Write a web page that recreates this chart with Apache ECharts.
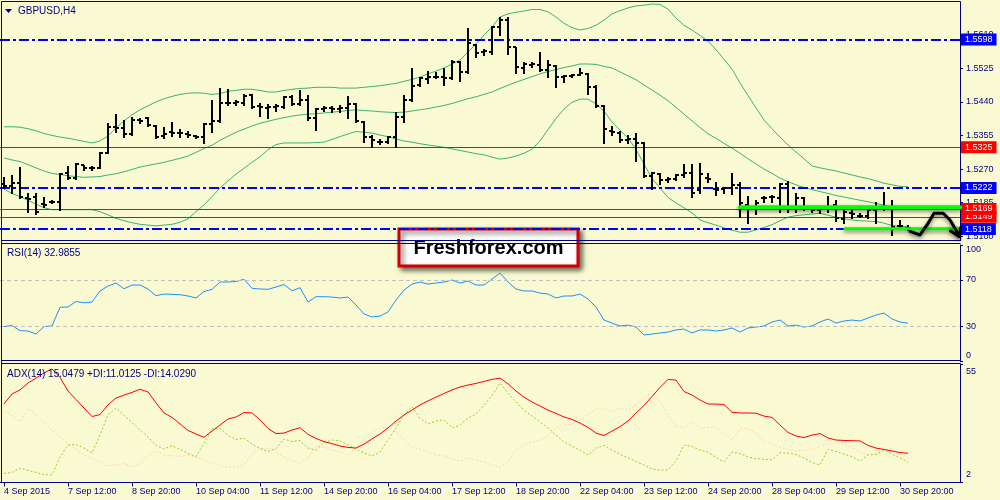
<!DOCTYPE html>
<html><head><meta charset="utf-8">
<script src="https://cdn.jsdelivr.net/npm/echarts@6/dist/echarts.min.js"></script>
<style>html,body{margin:0;padding:0;background:#FAFAD2;}#c{width:1000px;height:500px;}</style>
</head><body><div id="c"></div>
<script>
// ---------- data ----------
const tickLabels = ['4 Sep 2015','7 Sep 12:00','8 Sep 20:00','10 Sep 04:00','11 Sep 12:00','14 Sep 20:00','16 Sep 04:00','17 Sep 12:00','18 Sep 20:00','22 Sep 04:00','23 Sep 12:00','24 Sep 20:00','28 Sep 04:00','29 Sep 12:00','30 Sep 20:00'];
const slotCount = 120; // bar slots on the time axis (incl. empty right margin)

const opens = [1.5232,1.5227,1.5235,1.5197,1.5199,1.5182,1.5187,1.5187,1.5259,1.5247,
1.5279,1.5273,1.5273,1.5311,1.5376,1.5373,1.5359,1.5394,1.5398,1.5379,
1.5354,1.5364,1.5360,1.5359,1.5354,1.5350,1.5385,1.5392,1.5438,1.5437,
1.5438,1.5457,1.5429,1.5424,1.5426,1.5428,1.5452,1.5435,1.5446,1.5398,
1.5422,1.5424,1.5421,1.5424,1.5435,1.5390,1.5352,1.5339,1.5339,1.5352,
1.5401,1.5446,1.5483,1.5497,1.5504,1.5504,1.5500,1.5541,1.5516,1.5584,
1.5567,1.5567,1.5630,1.5647,1.5578,1.5525,1.5533,1.5533,1.5522,1.5531,
1.5502,1.5506,1.5508,1.5510,1.5477,1.5429,1.5367,1.5362,1.5343,1.5345,
1.5337,1.5252,1.5257,1.5242,1.5244,1.5255,1.5259,1.5217,1.5247,1.5219,
1.5219,1.5221,1.5230,1.5179,1.5173,1.5196,1.5199,1.5196,1.5232,1.5168,
1.5196,1.5171,1.5165,1.5171,1.5180,1.5143,1.5158,1.5151,1.5151,1.5166,
1.5173,1.5172,1.5126,1.5121];
const highs = [1.5251,1.5255,1.5274,1.5209,1.5210,1.5200,1.5192,1.5259,1.5278,1.5285,
1.5280,1.5278,1.5314,1.5387,1.5409,1.5394,1.5401,1.5398,1.5401,1.5381,
1.5376,1.5389,1.5371,1.5366,1.5356,1.5387,1.5446,1.5474,1.5472,1.5446,
1.5459,1.5459,1.5438,1.5435,1.5435,1.5455,1.5457,1.5470,1.5457,1.5424,
1.5429,1.5429,1.5432,1.5455,1.5438,1.5392,1.5356,1.5345,1.5354,1.5415,
1.5457,1.5525,1.5504,1.5519,1.5516,1.5525,1.5546,1.5544,1.5626,1.5586,
1.5575,1.5632,1.5655,1.5655,1.5580,1.5542,1.5542,1.5567,1.5546,1.5533,
1.5508,1.5510,1.5527,1.5512,1.5483,1.5432,1.5379,1.5367,1.5356,1.5360,
1.5339,1.5263,1.5259,1.5249,1.5257,1.5283,1.5283,1.5286,1.5259,1.5238,
1.5225,1.5261,1.5238,1.5202,1.5192,1.5202,1.5204,1.5235,1.5240,1.5210,
1.5199,1.5177,1.5173,1.5202,1.5192,1.5168,1.5171,1.5158,1.5177,1.5187,
1.5213,1.5192,1.5141,1.5128];
const lows = [1.5221,1.5210,1.5196,1.5162,1.5157,1.5175,1.5183,1.5166,1.5246,1.5246,
1.5268,1.5268,1.5272,1.5310,1.5365,1.5352,1.5356,1.5386,1.5379,1.5348,
1.5348,1.5354,1.5350,1.5350,1.5348,1.5335,1.5365,1.5390,1.5432,1.5432,
1.5432,1.5424,1.5404,1.5398,1.5418,1.5424,1.5432,1.5432,1.5394,1.5369,
1.5418,1.5415,1.5415,1.5398,1.5390,1.5339,1.5327,1.5333,1.5337,1.5327,
1.5390,1.5442,1.5480,1.5488,1.5500,1.5483,1.5497,1.5494,1.5514,1.5554,
1.5559,1.5561,1.5609,1.5561,1.5512,1.5512,1.5529,1.5519,1.5502,1.5477,
1.5491,1.5502,1.5507,1.5460,1.5426,1.5337,1.5356,1.5339,1.5337,1.5291,
1.5251,1.5219,1.5232,1.5238,1.5242,1.5251,1.5199,1.5210,1.5238,1.5204,
1.5210,1.5207,1.5149,1.5134,1.5156,1.5187,1.5187,1.5160,1.5162,1.5162,
1.5166,1.5160,1.5158,1.5162,1.5139,1.5133,1.5145,1.5148,1.5145,1.5134,
1.5166,1.5103,1.5118,1.5116];
const closes = [1.5227,1.5235,1.5199,1.5194,1.5160,1.5178,1.5187,1.5257,1.5247,1.5283,
1.5272,1.5273,1.5311,1.5376,1.5373,1.5359,1.5394,1.5392,1.5381,1.5352,
1.5359,1.5362,1.5362,1.5355,1.5352,1.5385,1.5392,1.5438,1.5436,1.5440,
1.5455,1.5426,1.5428,1.5426,1.5429,1.5452,1.5435,1.5446,1.5398,1.5422,
1.5424,1.5421,1.5424,1.5435,1.5392,1.5352,1.5343,1.5339,1.5350,1.5401,
1.5446,1.5480,1.5500,1.5502,1.5502,1.5500,1.5542,1.5516,1.5588,1.5563,
1.5568,1.5630,1.5647,1.5580,1.5529,1.5537,1.5537,1.5521,1.5533,1.5502,
1.5505,1.5508,1.5512,1.5477,1.5429,1.5371,1.5364,1.5343,1.5345,1.5337,
1.5252,1.5259,1.5242,1.5244,1.5255,1.5259,1.5210,1.5257,1.5245,1.5217,
1.5221,1.5230,1.5185,1.5173,1.5185,1.5197,1.5198,1.5232,1.5168,1.5196,
1.5171,1.5165,1.5168,1.5173,1.5145,1.5160,1.5157,1.5151,1.5166,1.5173,
1.5172,1.5124,1.5125,1.5120];

const bbUpper = [1.5377,1.5377,1.5376,1.5372,1.5367,1.5360,1.5355,1.5351,1.5348,1.5344,
1.5340,1.5336,1.5341,1.5354,1.5374,1.5392,1.5407,1.5420,1.5430,1.5440,
1.5448,1.5454,1.5459,1.5462,1.5463,1.5462,1.5459,1.5461,1.5467,1.5469,
1.5472,1.5472,1.5469,1.5465,1.5465,1.5469,1.5472,1.5474,1.5475,1.5477,
1.5477,1.5477,1.5475,1.5475,1.5475,1.5477,1.5479,1.5481,1.5484,1.5487,
1.5492,1.5497,1.5503,1.5511,1.5518,1.5526,1.5536,1.5546,1.5566,1.5587,
1.5609,1.5630,1.5655,1.5663,1.5667,1.5670,1.5674,1.5674,1.5668,1.5655,
1.5639,1.5628,1.5622,1.5626,1.5634,1.5647,1.5663,1.5671,1.5678,1.5683,
1.5685,1.5688,1.5687,1.5675,1.5652,1.5634,1.5622,1.5608,1.5594,1.5572,
1.5548,1.5523,1.5488,1.5456,1.5425,1.5394,1.5372,1.5351,1.5331,1.5313,
1.5296,1.5278,1.5273,1.5269,1.5265,1.5260,1.5255,1.5250,1.5246,1.5240,
1.5234,1.5230,1.5226,1.5225];
const bbMiddle = [1.5298,1.5293,1.5289,1.5281,1.5273,1.5265,1.5259,1.5256,1.5253,1.5251,
1.5249,1.5250,1.5251,1.5255,1.5258,1.5263,1.5269,1.5275,1.5279,1.5283,
1.5287,1.5292,1.5297,1.5303,1.5312,1.5322,1.5330,1.5343,1.5353,1.5363,
1.5371,1.5379,1.5386,1.5391,1.5396,1.5400,1.5404,1.5407,1.5409,1.5410,
1.5412,1.5414,1.5416,1.5418,1.5420,1.5418,1.5417,1.5415,1.5414,1.5413,
1.5414,1.5417,1.5420,1.5423,1.5427,1.5431,1.5436,1.5442,1.5448,1.5453,
1.5459,1.5465,1.5474,1.5482,1.5490,1.5497,1.5504,1.5511,1.5517,1.5522,
1.5527,1.5531,1.5536,1.5536,1.5535,1.5530,1.5526,1.5516,1.5506,1.5496,
1.5483,1.5470,1.5457,1.5443,1.5426,1.5409,1.5392,1.5375,1.5359,1.5348,
1.5335,1.5323,1.5310,1.5296,1.5283,1.5270,1.5259,1.5247,1.5238,1.5230,
1.5223,1.5218,1.5213,1.5208,1.5203,1.5199,1.5195,1.5191,1.5187,1.5183,
1.5178,1.5175,1.5172,1.5171];
const bbLower = [1.5219,1.5208,1.5200,1.5191,1.5181,1.5172,1.5167,1.5167,1.5167,1.5167,
1.5167,1.5167,1.5162,1.5154,1.5145,1.5139,1.5134,1.5130,1.5128,1.5126,
1.5128,1.5130,1.5135,1.5144,1.5162,1.5179,1.5200,1.5222,1.5240,1.5257,
1.5272,1.5287,1.5301,1.5319,1.5332,1.5336,1.5336,1.5336,1.5336,1.5337,
1.5338,1.5345,1.5352,1.5359,1.5365,1.5363,1.5361,1.5356,1.5352,1.5346,
1.5341,1.5338,1.5334,1.5331,1.5328,1.5325,1.5321,1.5317,1.5313,1.5309,
1.5306,1.5300,1.5295,1.5298,1.5303,1.5310,1.5320,1.5341,1.5370,1.5398,
1.5422,1.5439,1.5447,1.5447,1.5435,1.5417,1.5389,1.5368,1.5349,1.5319,
1.5283,1.5246,1.5222,1.5198,1.5184,1.5172,1.5159,1.5141,1.5134,1.5128,
1.5121,1.5115,1.5110,1.5110,1.5116,1.5122,1.5129,1.5139,1.5148,1.5152,
1.5154,1.5156,1.5158,1.5153,1.5148,1.5144,1.5141,1.5139,1.5138,1.5137,
1.5133,1.5127,1.5125,1.5124];

const rsi = [30.1,31.0,26.6,26.3,23.7,30.1,30.6,46.6,46.9,51.6,
50.5,51.1,60.6,64.8,67.4,62.5,65.7,65.7,62.3,56.5,
58.0,57.7,57.4,56.3,54.6,60.1,62.0,68.3,68.3,68.7,
70.6,62.9,62.3,62.0,64.0,66.1,60.8,63.4,51.1,55.7,
55.7,55.4,54.6,55.4,48.6,40.9,38.3,39.1,42.6,52.8,
61.4,66.5,68.3,66.5,67.4,68.3,70.0,67.4,69.1,65.7,
65.7,70.8,76.0,68.3,62.3,60.6,60.6,58.8,58.0,54.6,
56.3,56.3,58.0,53.7,46.9,35.7,33.1,30.6,31.4,29.7,
22.9,23.7,24.6,25.4,27.2,28.0,24.6,27.2,27.2,26.3,
27.2,28.9,25.4,28.9,29.7,30.6,34.0,35.7,30.6,31.4,
29.7,30.6,34.0,36.6,33.1,34.9,35.7,34.9,37.4,40.0,
41.7,36.6,34.0,32.99];
const adx = [37.1,41.6,43.4,46.5,48.7,51.0,52.8,49.0,42.9,39.1,
35.3,31.5,32.4,36.7,39.8,41.1,42.3,43.7,42.5,37.6,
33.1,31.1,28.2,25.3,23.7,22.2,25.0,27.7,30.4,31.3,
33.3,33.1,30.0,26.2,23.9,24.1,25.5,26.5,23.5,21.7,
20.3,19.4,18.3,17.7,17.4,19.2,21.5,23.7,26.4,29.5,
32.2,34.4,36.7,38.5,40.2,41.8,43.4,44.7,45.6,46.3,
47.2,48.1,48.7,46.1,42.9,40.2,38.0,36.2,34.4,32.9,
31.3,30.2,28.6,26.6,24.1,23.0,25.0,27.0,29.5,33.1,
36.4,40.5,44.5,48.1,47.8,42.7,41.1,38.9,37.1,37.1,
36.9,33.4,33.1,33.1,33.0,31.7,31.1,27.7,24.4,22.8,
22.1,23.2,23.9,21.9,21.0,20.8,20.7,20.6,18.6,17.4,
16.8,16.1,15.4,15.05];
const plusDI = [6.0,6.5,8.4,7.4,6.5,5.6,5.4,13.4,18.8,19.0,
17.4,15.2,23.2,32.2,35.3,32.0,28.8,25.5,22.4,18.6,
17.0,18.5,16.9,15.0,13.6,19.4,25.9,26.2,23.2,21.2,
21.9,19.2,17.2,15.9,17.2,21.5,20.3,20.8,17.4,16.5,
19.9,21.0,20.6,18.8,17.0,15.2,13.9,15.6,21.0,26.4,
32.2,35.8,30.8,28.2,29.5,30.0,26.4,27.7,30.8,32.6,
36.7,40.7,46.5,42.0,38.0,34.4,31.7,29.1,26.4,23.2,
20.1,18.3,16.5,14.3,17.4,18.6,16.5,14.6,13.0,11.4,
9.8,8.0,7.6,7.6,11.6,18.8,18.1,16.5,15.6,13.2,
11.2,15.6,15.0,13.4,12.7,12.4,12.1,15.3,15.2,14.5,
13.0,11.0,9.8,16.8,15.9,14.7,13.6,11.6,14.3,14.7,
16.5,14.7,13.0,11.01];
const minusDI = [34.0,32.0,29.2,34.9,32.4,28.8,25.5,22.4,19.4,16.8,
14.3,12.7,11.4,9.4,9.8,10.5,8.9,10.5,14.1,16.1,
14.3,13.9,13.6,14.3,13.2,12.3,10.7,9.6,8.8,8.8,
9.8,14.7,17.0,17.4,15.6,13.4,11.8,10.6,13.0,18.3,
17.9,16.5,15.6,14.3,17.4,21.0,24.6,26.4,26.8,24.6,
21.0,17.9,17.0,15.6,14.3,13.9,12.5,11.6,13.0,12.1,
11.2,9.8,8.9,11.2,16.5,18.8,20.1,21.0,22.8,26.4,
27.7,28.2,30.0,32.2,35.3,35.3,33.5,35.2,34.4,36.7,
39.3,42.9,38.1,32.2,27.3,26.4,29.2,26.2,26.6,26.8,
23.7,21.0,26.2,26.2,23.7,20.8,19.0,17.7,16.8,16.2,
16.2,17.0,18.0,19.1,19.8,19.4,17.7,15.6,14.5,14.3,
16.5,17.2,14.7,14.03];

const priceTicks = [1.5100,1.5185,1.5270,1.5355,1.5440,1.5525,1.5610];
const blueLevels = [1.5598,1.5222,1.5118];
const redLevels = [1.5325,1.5149,1.5169];
const rsiTicks = [0,30,70,100];
const rsiLevels = [30,70];
const adxTicks = [2,55];
// hand-drawn annotations: [bar position, price]
const greenLineUpper = [[92,1.5173],[119.5,1.5173]];
const greenLineLower = [[105.1,1.5119],[119.5,1.5119]];
const arrowPath = [[113.25,1.5112],[114.5,1.5103],[115.4,1.5129],[116.25,1.5158],[117.4,1.5158],[118.25,1.5141],[118.9,1.5119],[119.4,1.5100]];
const arrowHead = [[118.3,1.5113],[119.4,1.5099],[119.6,1.5122]];

// ---------- chart ----------
const FONT = 'Liberation Sans, Arial, sans-serif';
const NAVY = '#000080';
const cats = Array.from({length: slotCount}, (_, i) => String(i));
const chart = echarts.init(document.getElementById('c'), null, {renderer: 'canvas', width: 1000, height: 500});

const hiddenX = (gi) => ({type: 'category', gridIndex: gi, data: cats, boundaryGap: true,
  axisLine: {show: false, onZero: false}, axisTick: {show: false}, axisLabel: {show: false}, splitLine: {show: false}});
const yBase = (gi) => ({type: 'value', gridIndex: gi, position: 'right', splitLine: {show: false},
  axisLine: {show: true, onZero: false, lineStyle: {color: NAVY, width: 1}}});
const lblStyle = {color: NAVY, fontSize: 9, fontFamily: FONT};

const levelData = [
  ...blueLevels.map(v => ({yAxis: v, lineStyle: {color: '#0000FF', type: [10, 3, 3, 3], width: 2},
     label: {backgroundColor: '#0000FF'}})),
  ...redLevels.map(v => ({yAxis: v, lineStyle: {color: '#FF0000', type: 'solid', width: 1},
     label: {backgroundColor: '#FF0000'}}))
];

const annoLine = (data, color, width) => ({type: 'line', xAxisIndex: 3, yAxisIndex: 0, data, showSymbol: false, symbol: 'none',
  z: 8, silent: true, animation: false,
  lineStyle: {color, width, cap: 'round', join: 'round', shadowColor: 'rgba(0,0,0,0.55)', shadowBlur: 4, shadowOffsetY: 2}});

const option = {
  backgroundColor: '#FAFAD2',
  animation: false,
  textStyle: {fontFamily: FONT},
  grid: [
    {left: 0, right: 40, top: 2, height: 238.5},
    {left: 0, right: 40, top: 245, height: 116.7},
    {left: 0, right: 40, top: 364, height: 118.5}
  ],
  xAxis: [
    hiddenX(0), hiddenX(1),
    {type: 'category', gridIndex: 2, data: cats, boundaryGap: true,
     axisLine: {show: true, onZero: false, lineStyle: {color: NAVY}},
     axisTick: {show: true, interval: 7, alignWithLabel: true, length: 4, lineStyle: {color: NAVY}},
     axisLabel: Object.assign({show: true, interval: 7, align: 'left', margin: 5,
       formatter: (v, idx) => tickLabels[idx / 8] || ''}, lblStyle),
     splitLine: {show: false}},
    {type: 'value', gridIndex: 0, min: -0.5, max: slotCount - 0.5, show: false,
     axisLine: {show: false, onZero: false}}
  ],
  yAxis: [
    Object.assign(yBase(0), {min: 1.5089, max: 1.5693,
      axisTick: {show: true, length: 3, customValues: priceTicks, lineStyle: {color: NAVY}},
      axisLabel: Object.assign({customValues: priceTicks, margin: 6, formatter: v => v.toFixed(4)}, lblStyle)}),
    Object.assign(yBase(1), {min: 0, max: 100,
      axisTick: {show: true, length: 3, customValues: rsiTicks, lineStyle: {color: NAVY}},
      axisLabel: Object.assign({customValues: rsiTicks, margin: 6,
        formatter: v => v === 100 ? '{t|100}' : (v === 0 ? '{b|0}' : String(v)),
        rich: {t: Object.assign({padding: [10, 0, 0, 0]}, lblStyle), b: Object.assign({padding: [0, 0, 13, 0]}, lblStyle)}}, lblStyle)}),
    Object.assign(yBase(2), {min: 2, max: 55,
      axisTick: {show: true, length: 3, customValues: adxTicks, lineStyle: {color: NAVY}},
      axisLabel: Object.assign({customValues: adxTicks, margin: 6,
        formatter: v => v === 55 ? '{t|55}' : '{b|2}',
        rich: {t: Object.assign({padding: [16, 0, 0, 0]}, lblStyle), b: Object.assign({padding: [0, 0, 15, 0]}, lblStyle)}}, lblStyle)})
  ],
  series: [
    {type: 'line', name: 'BB upper', xAxisIndex: 0, yAxisIndex: 0, data: bbUpper, symbol: 'none', z: 3,
     lineStyle: {color: '#3CB371', width: 1},
     markLine: {silent: true, symbol: 'none', precision: 4, z: 4, data: levelData,
       label: {show: true, position: 'end', distance: 1, formatter: p => Number(p.value).toFixed(4),
         color: '#FFFFFF', fontSize: 9, fontFamily: FONT, padding: [2, 4, 1, 4]}}},
    {type: 'line', name: 'BB middle', xAxisIndex: 0, yAxisIndex: 0, data: bbMiddle, symbol: 'none', z: 3,
     lineStyle: {color: '#3CB371', width: 1}},
    {type: 'line', name: 'BB lower', xAxisIndex: 0, yAxisIndex: 0, data: bbLower, symbol: 'none', z: 3,
     lineStyle: {color: '#3CB371', width: 1}},
    {type: 'custom', name: 'GBPUSD', xAxisIndex: 0, yAxisIndex: 0, z: 6, clip: true,
     data: opens.map((o, i) => [i, o, highs[i], lows[i], closes[i]]),
     encode: {x: 0, y: [1, 2, 3, 4]},
     renderItem: (params, api) => {
       const i = api.value(0);
       const pO = api.coord([i, api.value(1)]);
       const pH = api.coord([i, api.value(2)]);
       const pL = api.coord([i, api.value(3)]);
       const pC = api.coord([i, api.value(4)]);
       const cx = Math.round(pH[0]);
       const st = {stroke: '#000000', lineWidth: 2};
       return {type: 'group', children: [
         {type: 'line', shape: {x1: cx, y1: Math.round(pH[1]), x2: cx, y2: Math.round(pL[1]) + 1}, style: st},
         {type: 'line', shape: {x1: cx - 3, y1: Math.round(pO[1]), x2: cx, y2: Math.round(pO[1])}, style: st},
         {type: 'line', shape: {x1: cx, y1: Math.round(pC[1]), x2: cx + 3, y2: Math.round(pC[1])}, style: st}
       ]};
     }},
    annoLine(greenLineUpper, '#00FF00', 4),
    annoLine(greenLineLower, '#00FF00', 3),
    annoLine(arrowPath, '#000000', 3),
    annoLine(arrowHead, '#000000', 3),
    {type: 'line', name: 'RSI', xAxisIndex: 1, yAxisIndex: 1, data: rsi, symbol: 'none', z: 3,
     lineStyle: {color: '#1E90FF', width: 1},
     markLine: {silent: true, symbol: 'none', label: {show: false},
       lineStyle: {color: '#C0C0C0', type: [4, 3], width: 1},
       data: rsiLevels.map(v => ({yAxis: v}))}},
    {type: 'line', name: '-DI', xAxisIndex: 2, yAxisIndex: 2, data: minusDI, symbol: 'none', z: 3,
     lineStyle: {color: '#FFD3B5', width: 1, type: [2, 2]}},
    {type: 'line', name: '+DI', xAxisIndex: 2, yAxisIndex: 2, data: plusDI, symbol: 'none', z: 3,
     lineStyle: {color: '#9ACD32', width: 1, type: [2, 2]}},
    {type: 'line', name: 'ADX', xAxisIndex: 2, yAxisIndex: 2, data: adx, symbol: 'none', z: 4,
     lineStyle: {color: '#FF0000', width: 1}}
  ],
  graphic: [
    // panel frames
    {type: 'line', z: 50, shape: {x1: 1.5, y1: 1.5, x2: 960.5, y2: 1.5}, style: {stroke: NAVY, lineWidth: 1}},
    {type: 'line', z: 50, shape: {x1: 1.5, y1: 1.5, x2: 1.5, y2: 482.5}, style: {stroke: NAVY, lineWidth: 1}},
    {type: 'line', z: 50, shape: {x1: 1.5, y1: 240.5, x2: 960.5, y2: 240.5}, style: {stroke: NAVY, lineWidth: 1}},
    {type: 'line', z: 50, shape: {x1: 1.5, y1: 243.5, x2: 960.5, y2: 243.5}, style: {stroke: NAVY, lineWidth: 1}},
    {type: 'line', z: 50, shape: {x1: 1.5, y1: 360.5, x2: 960.5, y2: 360.5}, style: {stroke: NAVY, lineWidth: 1}},
    {type: 'line', z: 50, shape: {x1: 1.5, y1: 363.5, x2: 960.5, y2: 363.5}, style: {stroke: NAVY, lineWidth: 1}},
    // titles
    {type: 'polygon', z: 50, shape: {points: [[5, 9], [12, 9], [8.5, 13]]}, style: {fill: NAVY}},
    {type: 'text', z: 50, style: {text: 'GBPUSD,H4', x: 18, y: 11, verticalAlign: 'middle', fill: NAVY, fontSize: 10, fontFamily: FONT}},
    {type: 'text', z: 50, style: {text: 'RSI(14) 32.9855', x: 7, y: 253, verticalAlign: 'middle', fill: NAVY, fontSize: 10, fontFamily: FONT}},
    {type: 'text', z: 50, style: {text: 'ADX(14) 15.0479 +DI:11.0125 -DI:14.0290', x: 7, y: 374, verticalAlign: 'middle', fill: NAVY, fontSize: 10, fontFamily: FONT}},
    // logo
    {type: 'group', z: 60, children: [
      {type: 'rect', shape: {x: 399, y: 229, width: 179, height: 37},
       style: {fill: '#FFFFFF', stroke: '#D40000', lineWidth: 3, shadowBlur: 5, shadowOffsetX: 3, shadowOffsetY: 3, shadowColor: 'rgba(0,0,0,0.55)'}},
      {type: 'text', style: {text: 'Freshforex.com', x: 488.5, y: 248.5, align: 'center', verticalAlign: 'middle',
        fill: '#000000', fontSize: 20, fontWeight: 'bold', fontFamily: FONT}}
    ]}
  ]
};
chart.setOption(option);
</script>
</body></html>
